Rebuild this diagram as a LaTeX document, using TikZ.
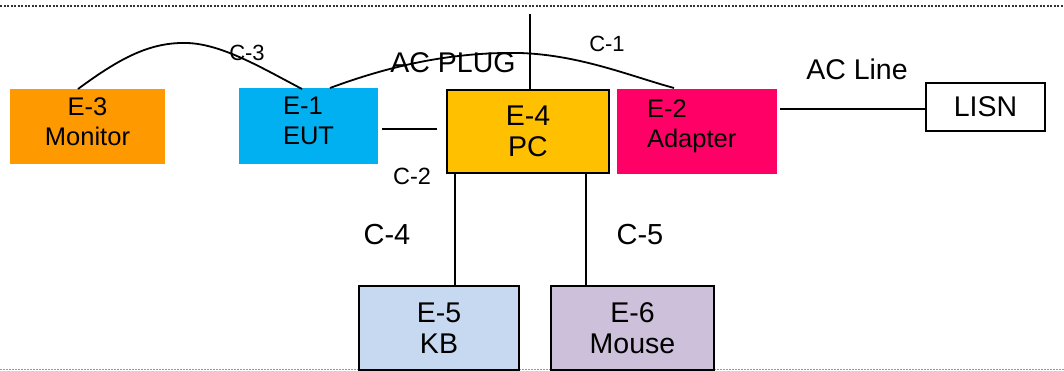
\documentclass[tikz,border=0pt]{standalone}
\usepackage{fontspec}
\setmainfont{Liberation Sans}
\definecolor{monc}{HTML}{FF9900}
\definecolor{eutc}{HTML}{00B0F0}
\definecolor{pcc}{HTML}{FFC000}
\definecolor{adc}{HTML}{FF0066}
\definecolor{kbc}{HTML}{C6D9F1}
\definecolor{msc}{HTML}{CCC0DA}
\begin{document}
\begin{tikzpicture}[x=1pt,y=-1pt,
  box/.style={rectangle,inner sep=0pt,align=center},
  bigf/.style={font=\fontsize{28.5}{31}\selectfont},
  midf/.style={font=\fontsize{25.5}{30}\selectfont},
  outl/.style={draw=black,line width=1.8pt},
  wire/.style={line width=1.8pt,black},
  lbl/.style={inner sep=0pt}]
\useasboundingbox (0,0) rectangle (1064,371);
% dotted frame lines
\draw[line width=1.2pt,black!80,dash pattern=on 2pt off 1.5pt] (0,6) -- (1064,6);
\draw[line width=1pt,black!40,dash pattern=on 1.5pt off 1.5pt] (0,369) -- (1064,369);
% boxes
\node[box,fill=monc,minimum width=155pt,minimum height=75pt,
  label={[lbl,midf,align=center,yshift=5pt]center:E-3\\Monitor}] (mon) at (87.5,126.5) {};
\node[box,fill=eutc,minimum width=139pt,minimum height=76pt,
  label={[lbl,midf,align=left,anchor=west,xshift=44pt,yshift=5pt]west:E-1\\EUT}] (eut) at (308.5,126) {};
\node[box,bigf,fill=pcc,outl,minimum width=162pt,minimum height=83pt] (pc) at (528,131.5) {E-4\\PC};
\node[box,fill=adc,minimum width=160pt,minimum height=85pt,
  label={[lbl,midf,align=left,anchor=west,xshift=30pt,yshift=5.5pt]west:E-2\\Adapter}] (ad) at (697,131.5) {};
\node[box,bigf,fill=white,outl,minimum width=119pt,minimum height=48pt] (lisn) at (985.5,107) {LISN};
\node[box,bigf,fill=kbc,outl,minimum width=160pt,minimum height=84pt] (kb) at (439,328) {E-5\\KB};
\node[box,bigf,fill=msc,outl,minimum width=163pt,minimum height=84pt] (ms) at (632.5,328) {E-6\\Mouse};
% free-end coordinates
\coordinate (c2a) at (382,129);
\coordinate (c2b) at (437,129);
\coordinate (top) at (530,14);
\coordinate (acl) at (780,109);
% connectors
\draw[wire] (c2a) -- (c2b);
\draw[wire] (top) -- (top |- pc.north);
\draw[wire] (acl) -- (lisn.west |- acl);
\draw[wire] (455,174) coordinate (kbs) -- (kbs |- kb.north);
\draw[wire] (586,174) coordinate (mss) -- (mss |- ms.north);
\draw[wire] (78,89) coordinate (c3s) .. controls (120,58) and (150,42) .. (187,43)
   .. controls (222,44) and (262,68) .. (302,89) coordinate (c3e);
\draw[wire] (330,88) coordinate (c1s) .. controls (400,62) and (460,52) .. (520,53)
   .. controls (580,55) and (630,76) .. (674,88) coordinate (c1e);
% labels
\node[lbl,font=\fontsize{22}{24}\selectfont] (l3) at (247,53) {C-3};
\node[lbl,font=\fontsize{28.5}{30}\selectfont] (lplug) at (453,63) {AC PLUG};
\node[lbl,font=\fontsize{22}{24}\selectfont] (l1) at (607,44) {C-1};
\node[lbl,font=\fontsize{28.5}{30}\selectfont] (lline) at (857,69) {AC Line};
\node[lbl,font=\fontsize{23.5}{25}\selectfont] (l2) at (412,176) {C-2};
\node[lbl,font=\fontsize{29}{30}\selectfont] (l4) at (387,235) {C-4};
\node[lbl,font=\fontsize{29}{30}\selectfont] (l5) at (640,235) {C-5};
\end{tikzpicture}
\end{document}
